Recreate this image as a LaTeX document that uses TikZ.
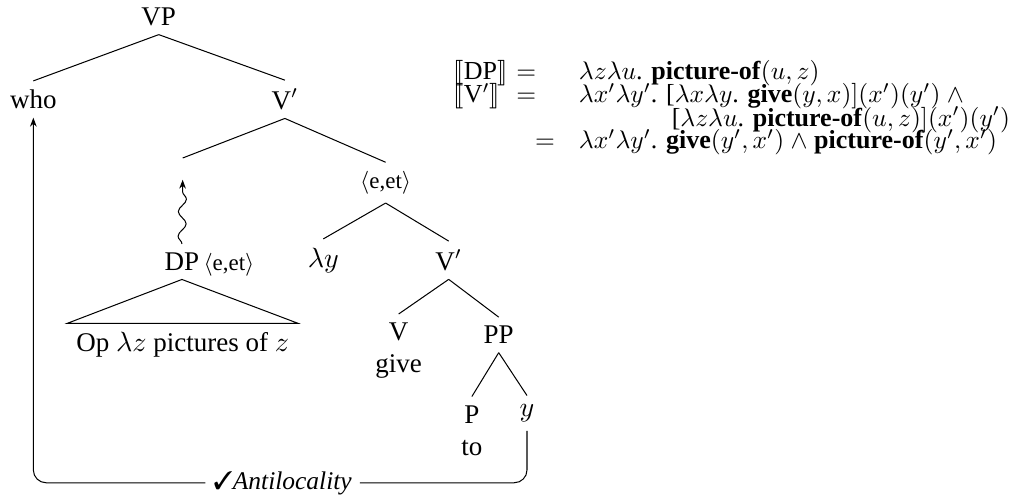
\documentclass[tikz,border=0pt]{standalone}
\usepackage{fontspec}
\setmainfont{Liberation Serif}
\usepackage{stmaryrd}
\usepackage{pifont}
\usetikzlibrary{arrows.meta, positioning, decorations.pathmorphing}

\begin{document}
\begin{tikzpicture}[
  font=\fontsize{10.6}{12.7}\selectfont,
  >={Stealth[length=3.5pt, width=2.6pt]},
  cat/.style={align=center, inner sep=3.3pt},
  typ/.style={font=\small, inner sep=3.3pt},
  sem/.style={font=\fontsize{10.2}{12}\selectfont, anchor=base west, inner sep=0pt},
  eqs/.style={font=\fontsize{10.2}{12}\selectfont, anchor=base, inner sep=0pt},
  moveup/.style={->, decorate, decoration={snake, amplitude=0.55mm,
    segment length=3.4mm, post length=1.6mm}},
  link/.style={->, rounded corners=5pt},
]
\useasboundingbox (0,0) rectangle (14.03,-6.88);

% === Tree ===
\node[cat] (vp) at (2.19,-0.23) {VP};
\node[cat] (who) at (0.46,-1.37) {who};
\node[cat] (vbar) at (3.93,-1.37) {V$'$};
\coordinate (gap) at (2.52,-2.18);
\node[typ] (eet) at (5.32,-2.52) {$\langle$e,et$\rangle$};

% moved DP with its triangle
\node[cat] (dp) at (2.51,-3.61) {DP};
\node[font=\small, inner sep=0pt, anchor=base west] (dptype)
  at ([xshift=-2pt]dp.base east) {$\langle$e,et$\rangle$};
\node[cat, anchor=north, minimum width=3.16cm] (op) at (2.52,-4.46)
  {Op $\lambda z$ pictures of $z$};

\node[cat] (lamy) at (4.46,-3.59) {$\lambda y$};
\node[cat] (vbarlow) at (6.19,-3.59) {V$'$};
\node[cat] (v) at (5.50,-4.84) {V\\give};
\node[cat] (pp) at (6.88,-4.62) {PP};
\node[cat] (p) at (6.51,-5.94) {P\\to};
\node[cat] (ytr) at (7.27,-5.70) {$y$};

% branches
\draw (vp.south) -- (who.north);
\draw (vp.south) -- (vbar.north);
\draw (vbar.south) -- (gap);
\draw (vbar.south) -- (eet.north);
\draw (eet.south) -- (lamy.north);
\draw (eet.south) -- (vbarlow.north);
\draw (vbarlow.south) -- (v.north);
\draw (vbarlow.south) -- (pp.north);
\draw (pp.south) -- (p.north);
\draw (pp.south) -- (ytr.north);
\draw (dp.south) -- (op.north west) -- (op.north east) -- cycle;

% movement of DP
\draw[moveup] (dp.north) -- ([yshift=-0.3cm]gap);

% === Antilocality link ===
\node[font=\fontsize{10}{12}\selectfont, inner xsep=3pt] (anti) at (3.90,-6.66)
  {\ding{51}\textit{Antilocality}};
\draw[rounded corners=5pt] (ytr.south) |- (anti.east);
\draw[link] (anti.west) -| (who.south);

% === Denotations ===
\node[sem] (dplhs) at (6.25,-1.10) {$\llbracket$DP$\rrbracket$};
\node[eqs] (eqa) at (7.26,-1.10) {$=$};
\node[sem] (dprhs) at (7.98,-1.10)
  {$\lambda z\lambda u$. \textbf{picture-of}$(u, z)$};

\node[sem] (vlhs) at (6.25,-1.42) {$\llbracket$V$'\rrbracket$};
\node[eqs] (eqb) at (7.26,-1.42) {$=$};
\node[sem] (vrhs) at (7.98,-1.42)
  {$\lambda x'\lambda y'$. [$\lambda x\lambda y$. \textbf{give}$(y, x)](x')(y')$ $\wedge$};
\node[sem] (vrhsb) at (9.26,-1.74)
  {[$\lambda z\lambda u$. \textbf{picture-of}$(u, z)](x')(y')$};

\node[eqs] (eqc) at (7.52,-2.05) {$=$};
\node[sem] (vres) at (7.98,-2.05)
  {$\lambda x'\lambda y'$. \textbf{give}$(y', x')$ $\wedge$ \textbf{picture-of}$(y', x')$};

\end{tikzpicture}
\end{document}
